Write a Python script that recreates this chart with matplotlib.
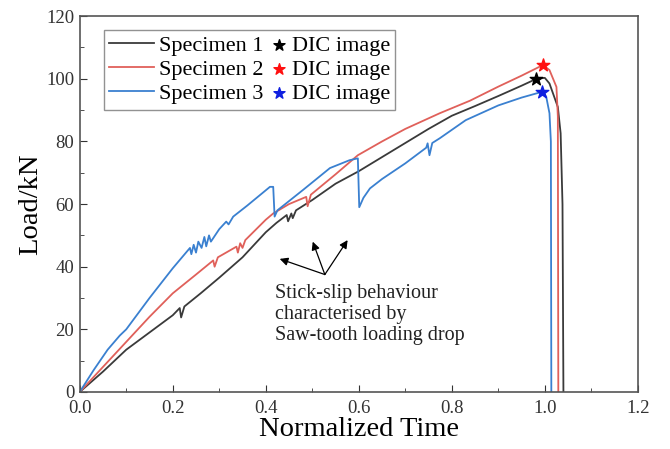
import matplotlib
matplotlib.use('Agg')
import matplotlib.pyplot as plt
from matplotlib.ticker import MultipleLocator
from matplotlib.legend_handler import HandlerPathCollection

# Specimen curves (normalized time, load in kN)
s1_t = [0, 0.05, 0.1, 0.15, 0.2, 0.215, 0.218, 0.225, 0.26, 0.3, 0.35, 0.4, 0.423,
        0.445, 0.448, 0.455, 0.458, 0.465, 0.5, 0.55, 0.6, 0.65, 0.7, 0.75, 0.8,
        0.85, 0.9, 0.95, 0.982, 1.0, 1.01, 1.028, 1.034, 1.038, 1.04]
s1_load = [0, 6.5, 13.5, 19, 24.5, 26.8, 23.8, 27.3, 31.5, 36.5, 43, 51, 54,
           56.5, 54.5, 57, 55.5, 58, 61.3, 66.5, 70.5, 75, 79.5, 84, 88.2,
           91.3, 94.5, 97.8, 100, 100.3, 98.5, 91, 82.6, 60, 0]

s2_t = [0, 0.05, 0.1, 0.15, 0.2, 0.25, 0.287, 0.29, 0.297, 0.337, 0.34, 0.345, 0.35,
        0.356, 0.4, 0.416, 0.45, 0.487, 0.49, 0.497, 0.55, 0.598, 0.65, 0.7,
        0.774, 0.839, 0.9, 0.95, 0.996, 1.01, 1.025, 1.028, 1.029]
s2_load = [0, 8, 16, 24, 31.5, 37.5, 42, 40, 43, 46.4, 44.5, 47.5, 46,
           48.5, 55, 57, 60, 62.3, 59.3, 63, 69.5, 75.6, 80, 84,
           89, 93, 97.5, 101, 104.4, 102.8, 97.4, 88, 0]

s3_t = [0, 0.03, 0.06, 0.086, 0.1, 0.15, 0.2, 0.237, 0.24, 0.245, 0.25, 0.255,
        0.262, 0.268, 0.272, 0.278, 0.282, 0.3, 0.315, 0.32, 0.33, 0.36, 0.409,
        0.416, 0.419, 0.425, 0.48, 0.538, 0.58, 0.598, 0.601, 0.61, 0.624,
        0.65, 0.7, 0.745, 0.748, 0.752, 0.758, 0.774, 0.83, 0.9, 0.95, 0.993,
        1.003, 1.01, 1.013, 1.014]
s3_load = [0, 7, 13.5, 18, 20, 30, 39.5, 46, 44, 47, 44.5, 48,
           46, 49.5, 46.5, 50, 48, 52, 54.4, 53.5, 56, 59.5, 65.5,
           65.5, 56, 58, 64.5, 71.5, 74, 74.6, 59, 62, 65,
           68, 73, 78, 79.4, 75.6, 79.5, 81, 86.8, 91.5, 94, 95.8,
           94.3, 89, 80, 0]

# DIC image points (stars)
dic_t = [0.982, 0.996, 0.993]
dic_load = [100, 104.4, 95.8]

labels = ['Specimen 1', 'Specimen 2', 'Specimen 3']
line_colors = ['#3a3a3a', '#e0605a', '#3a80d0']
star_colors = ['black', '#ff1010', '#1020e0']


class StarHandler(HandlerPathCollection):
    # put the star at the right end of its handle box, close to the text
    def get_xdata(self, legend, xdescent, ydescent, width, height, fontsize):
        x = [width - 0.3 * fontsize]
        return x, x


plt.rcParams['font.family'] = ['Liberation Serif', 'DejaVu Serif']

fig = plt.figure(figsize=(6.7, 4.49), dpi=100)
ax = fig.add_axes([0.119, 0.127, 0.833, 0.837])

lines = []
for t, load, c, lab in zip([s1_t, s2_t, s3_t], [s1_load, s2_load, s3_load],
                           line_colors, labels):
    ln, = ax.plot(t, load, color=c, lw=1.3, label=lab)
    lines.append(ln)

stars = []
for x, y, c in zip(dic_t, dic_load, star_colors):
    st = ax.scatter([x], [y], marker='*', s=90, color=c, zorder=5)
    stars.append(st)

ax.set_xlim(0, 1.2)
ax.set_ylim(0, 120)
ax.xaxis.set_major_locator(MultipleLocator(0.2))
ax.xaxis.set_minor_locator(MultipleLocator(0.1))
ax.yaxis.set_major_locator(MultipleLocator(20))
ax.yaxis.set_minor_locator(MultipleLocator(10))
ax.tick_params(which='both', direction='in', top=False, right=False,
               labelsize=13.5, colors='#333333')
ax.tick_params(which='major', length=5)
ax.tick_params(which='minor', length=3)
ax.tick_params(axis='x', which='major', pad=6)
ax.tick_params(axis='y', which='major', pad=4)
for sp in ax.spines.values():
    sp.set_color('#555555')
    sp.set_linewidth(1.2)

ax.set_xlabel('Normalized Time', fontsize=20.5, labelpad=0)
ax.set_ylabel('Load/kN', fontsize=20.5, labelpad=2)

hmap = {st: StarHandler() for st in stars}
leg = ax.legend(lines + stars, labels + ['DIC image'] * 3, ncol=2,
                loc='upper left', bbox_to_anchor=(0.043, 0.963),
                fontsize=16, frameon=True, fancybox=False, handlelength=2.0,
                columnspacing=-1.0, handletextpad=0.25, labelspacing=0.15,
                borderpad=0.25, borderaxespad=0, handler_map=hmap)
leg.get_frame().set_edgecolor('#777777')
leg.get_frame().set_linewidth(1.0)
for st in leg.legend_handles[3:]:
    st.set_sizes([70])

# annotation with three arrows
origin = (0.527, 37.5)
targets = [(0.43, 42.5), (0.501, 48), (0.576, 48.5)]
for tx, ty in targets:
    ax.annotate('', xy=(tx, ty), xytext=origin,
                arrowprops=dict(arrowstyle='-|>', color='black', lw=0.9,
                                mutation_scale=12, shrinkA=0, shrinkB=0))
ax.text(0.42, 34.5, 'Stick-slip behaviour\ncharacterised by\nSaw-tooth loading drop',
        fontsize=14.5, va='top', ha='left', color='#222222', linespacing=1.15)

fig.savefig('out.png', dpi=100)
